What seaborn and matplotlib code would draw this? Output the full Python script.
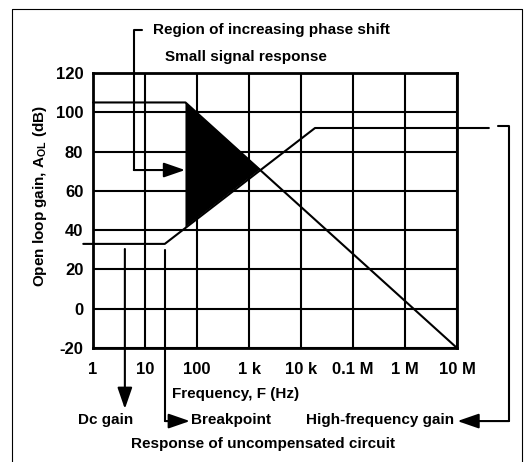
import pandas as pd
import matplotlib.pyplot as plt
from matplotlib.lines import Line2D
import seaborn as sns

# axis ticks
freq_ticks = [1, 10, 100, 1e3, 1e4, 1e5, 1e6, 1e7]
freq_labels = ['1', '10', '100', '1 k', '10 k', '0.1 M', '1 M', '10 M']
gain_ticks = [-20, 0, 20, 40, 60, 80, 100, 120]

# response of uncompensated circuit
uncomp_f = [0.65, 24, 18600, 4.1e7]
uncomp_db = [33, 33, 92, 92]

# small signal response
small_f = [1, 60, 1e7]
small_db = [105, 105, -20]

# region of increasing phase shift (between the two curves)
region_f = [60, 60, 1650]
region_db = [105, 41.5, 71]

sns.set_style('white')
plt.rcParams['font.family'] = ['Liberation Sans Narrow', 'Liberation Sans']
plt.rcParams['font.weight'] = 'bold'
plt.rcParams['text.color'] = 'k'
plt.rcParams['xtick.color'] = 'k'
plt.rcParams['ytick.color'] = 'k'
plt.rcParams['axes.unicode_minus'] = False
FS = 11

df_unc = pd.DataFrame({'f': uncomp_f, 'dB': uncomp_db})
df_small = pd.DataFrame({'f': small_f, 'dB': small_db})

fig = plt.figure(figsize=(5.25, 4.62), dpi=100)
ax = fig.add_axes([93 / 525, 1 - 348 / 462, 364 / 525, 275 / 462])
ax.set_xscale('log')

sns.lineplot(data=df_unc, x='f', y='dB', ax=ax, color='k', lw=1.5,
             sort=False, estimator=None)
sns.lineplot(data=df_small, x='f', y='dB', ax=ax, color='k', lw=1.5,
             sort=False, estimator=None)
for ln in ax.lines:
    ln.set_clip_on(False)
ax.fill(region_f, region_db, color='k', lw=0, zorder=3)
ax.set_xlabel('')
ax.set_ylabel('')

# leader lines
kw = dict(color='k', lw=1.5, clip_on=False, zorder=4)
ax.plot([8.75, 6.1, 6.1], [142, 142, 70.6], **kw)
ax.plot([24.2, 24.2], [30, -57.2], **kw)
ax.plot([6.1e7, 1e8, 1e8], [93, 93, -57.2], **kw)

def arrow(start, tip):
    ax.annotate('', xy=tip, xytext=start, annotation_clip=False,
                arrowprops=dict(arrowstyle='-|>,head_length=1.3,head_width=0.45',
                                color='k', lw=1.5, shrinkA=0, shrinkB=0))

arrow((6.1, 70.6), (59, 70.6))
arrow((4.1, 30.4), (4.1, -51))
arrow((24.2, -57.2), (73, -57.2))
arrow((1e8, -57.2), (1.02e7, -57.2))

ax.set_xlim(1, 1e7)
ax.set_ylim(-20, 120)
ax.set_xticks(freq_ticks)
ax.set_xticklabels(freq_labels)
ax.set_yticks(gain_ticks)
ax.minorticks_off()
ax.tick_params(length=0, labelsize=12, pad=7)
ax.tick_params(axis='x', pad=10)
ax.grid(True, color='k', lw=1.5)
for s in ax.spines.values():
    s.set_color('k')
    s.set_linewidth(2)

def label(x, y, s, ha='left', **k):
    fig.text(x / 525, 1 - y / 462, s, ha=ha, va='center', fontsize=FS,
             fontweight='bold', **k)

label(153, 30, 'Region of increasing phase shift')
label(246, 57, 'Small signal response', ha='center')
label(172, 394, 'Frequency, F (Hz)')
label(106, 420, 'Dc gain', ha='center')
label(191, 420, 'Breakpoint')
label(454, 420, 'High-frequency gain', ha='right')
label(263, 444, 'Response of uncompensated circuit', ha='center')
label(40, 196, 'Open loop gain, $\\mathregular{A_{OL}}$ (dB)', ha='center',
      rotation=90)

# outer frame
fig.add_artist(Line2D([12 / 525, 12 / 525, 522 / 525, 522 / 525],
                      [0, 1 - 9 / 462, 1 - 9 / 462, 0],
                      transform=fig.transFigure, color='k', lw=0.8))

fig.savefig('out.png', dpi=100)
